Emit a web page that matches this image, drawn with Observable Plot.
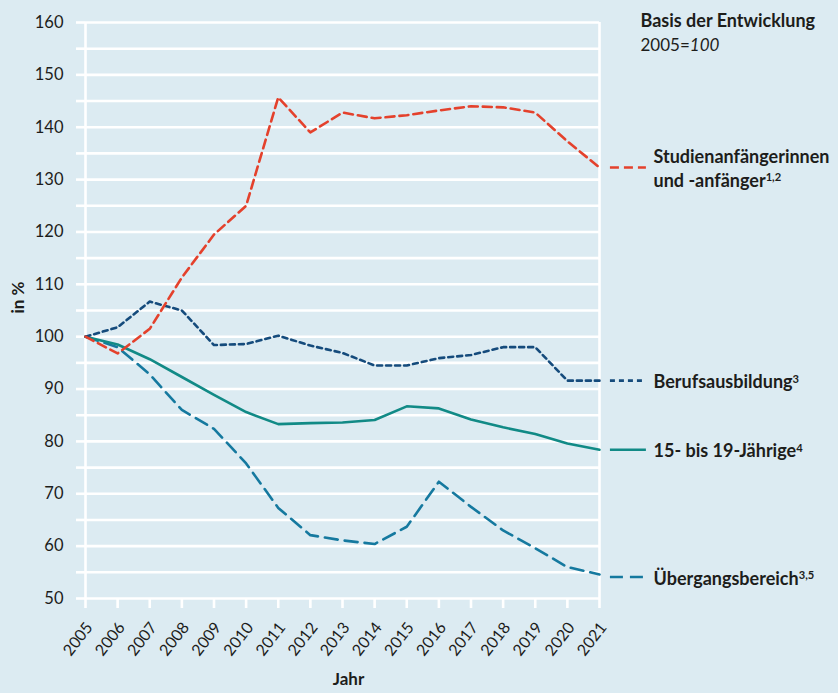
<!DOCTYPE html>
<html>
<head>
<meta charset="utf-8">
<script src="https://cdn.jsdelivr.net/npm/d3@7"></script>
<script src="https://cdn.jsdelivr.net/npm/@observablehq/plot@0.6"></script>
<style>
  html, body { margin: 0; padding: 0; background: #dcebf2; }
</style>
</head>
<body>
<div id="chart"></div>
<script>
const years = [2005, 2006, 2007, 2008, 2009, 2010, 2011, 2012, 2013, 2014, 2015, 2016, 2017, 2018, 2019, 2020, 2021];
const studien = [100, 96.8, 101.5, 111.3, 119.5, 125.0, 145.7, 139.0, 142.8, 141.7, 142.3, 143.2, 144.0, 143.8, 142.8, 137.3, 132.3];
const berufs  = [100, 101.8, 106.7, 105.0, 98.4, 98.6, 100.2, 98.3, 96.9, 94.5, 94.5, 95.9, 96.5, 98.0, 98.0, 91.6, 91.6];
const jaehrige = [100, 98.5, 95.7, 92.3, 88.9, 85.6, 83.3, 83.5, 83.6, 84.1, 86.7, 86.3, 84.2, 82.7, 81.4, 79.6, 78.4];
const uebergang = [100, 98.0, 92.8, 86.0, 82.4, 75.8, 67.3, 62.1, 61.1, 60.4, 63.7, 72.3, 67.5, 63.0, 59.6, 56.0, 54.6];

const seriesLabels = ["Studienanfängerinnen\nund -anfänger^1,2", "Berufsausbildung^3", "15- bis 19-Jährige^4", "Übergangsbereich^3,5"];
const legendY = [132.3, 91.6, 78.4, 54.1];
const yTicksMinor = [50, 55, 60, 65, 70, 75, 80, 85, 90, 95, 100, 105, 110, 115, 120, 125, 130, 135, 140, 145, 150, 155, 160];
const yTicksMajor = [50, 60, 70, 80, 90, 100, 110, 120, 130, 140, 150, 160];
const titleText = "Basis der Entwicklung";
const subtitleText = "2005=*100*";
const xLabel = "Jahr";
const yLabel = "in %";

const colors = ["#e4412c", "#154b7c", "#118a86", "#15799f"];
const dashes = ["9,5", "5,4", null, "13,7"];
const valueSets = [studien, berufs, jaehrige, uebergang];
const legendX1 = 2021.34, legendX2 = 2022.46;

const series = valueSets.map((vals, i) => ({
  rows: years.map((y, j) => ({year: y, value: vals[j]})),
  label: seriesLabels[i], color: colors[i], dash: dashes[i], ly: legendY[i]
}));

const drawOrder = [3, 2, 1, 0];
const lineMarks = [];
for (const i of drawOrder) {
  const s = series[i];
  lineMarks.push(Plot.line(s.rows, {x: "year", y: "value", stroke: s.color, strokeWidth: 2.6, strokeDasharray: s.dash, strokeLinejoin: "round"}));
}
const legendMarks = [];
for (const s of series) {
  legendMarks.push(Plot.ruleY([s.ly], {x1: legendX1, x2: legendX2, stroke: s.color, strokeWidth: 2.6, strokeDasharray: s.dash}));
  legendMarks.push(Plot.text([{x: 2021, y: s.ly, t: s.label}], {x: "x", y: "y", text: "t", dx: 54, textAnchor: "start", lineAnchor: "middle", fontWeight: "bold", fontSize: 18, lineHeight: 1.3, fill: "#1d1d1b"}));
}

const chart = Plot.plot({
  width: 838, height: 693,
  marginLeft: 85, marginRight: 239, marginTop: 22, marginBottom: 95,
  style: {background: "#dcebf2", fontFamily: "Lato, 'Open Sans', sans-serif", fontSize: "16px", color: "#1d1d1b"},
  x: {domain: [2005, 2021]},
  y: {domain: [50, 160]},
  marks: [
    Plot.gridY(yTicksMinor, {stroke: "white", strokeOpacity: 1, strokeWidth: 2.6}),
    Plot.ruleX([2005, 2021], {stroke: "white", strokeWidth: 2.6}),
    Plot.axisY(yTicksMinor, {tickSize: 9, stroke: "white", strokeWidth: 2.6, tickFormat: () => "", label: null}),
    Plot.axisY(yTicksMajor, {tickSize: 0, tickPadding: 22, fill: "#1d1d1b", fontSize: 16.5, label: null}),
    Plot.axisX(years, {tickSize: 10, stroke: "white", strokeWidth: 2.6, tickFormat: () => "", label: null}),
    Plot.text(years, {x: d => d, text: d => String(d), frameAnchor: "bottom", dx: 4, dy: 26, rotate: -52, textAnchor: "end", lineAnchor: "middle", fill: "#1d1d1b", fontSize: 16}),
    ...lineMarks,
    ...legendMarks,
    Plot.text([titleText], {frameAnchor: "top-right", dx: 41, dy: -1, textAnchor: "start", lineAnchor: "middle", fontWeight: "bold", fontSize: 18, fill: "#1d1d1b"}),
    Plot.text([subtitleText], {frameAnchor: "top-right", dx: 41, dy: 23, textAnchor: "start", lineAnchor: "middle", fontSize: 17, fill: "#1d1d1b"}),
    Plot.text([yLabel], {frameAnchor: "left", dx: -67, dy: 3, rotate: -90, fontWeight: "bold", fontSize: 17, fill: "#1d1d1b"}),
    Plot.text([xLabel], {frameAnchor: "bottom", dx: 6, dy: 86, fontWeight: "bold", fontSize: 17, fill: "#1d1d1b"})
  ]
});

// Rich text: ^sup and *italic*
(function enrich(root) {
  const walker = document.createTreeWalker(root, NodeFilter.SHOW_TEXT);
  const nodes = [];
  while (walker.nextNode()) nodes.push(walker.currentNode);
  const ns = "http://www.w3.org/2000/svg";
  for (const n of nodes) {
    const s = n.nodeValue;
    let m;
    if ((m = s.match(/^(.*)\^(.+)$/))) {
      const parent = n.parentNode;
      const t = document.createTextNode(m[1]);
      const sup = document.createElementNS(ns, "tspan");
      sup.setAttribute("font-size", "0.62em");
      sup.setAttribute("dy", "-0.5em");
      sup.textContent = m[2];
      parent.replaceChild(t, n);
      parent.insertBefore(sup, t.nextSibling);
    } else if ((m = s.match(/^(.*)\*(.+)\*$/))) {
      const parent = n.parentNode;
      const t = document.createTextNode(m[1]);
      const it = document.createElementNS(ns, "tspan");
      it.setAttribute("font-style", "italic");
      it.textContent = m[2];
      parent.replaceChild(t, n);
      parent.insertBefore(it, t.nextSibling);
    }
  }
})(chart);

document.getElementById("chart").appendChild(chart);
</script>
</body>
</html>
